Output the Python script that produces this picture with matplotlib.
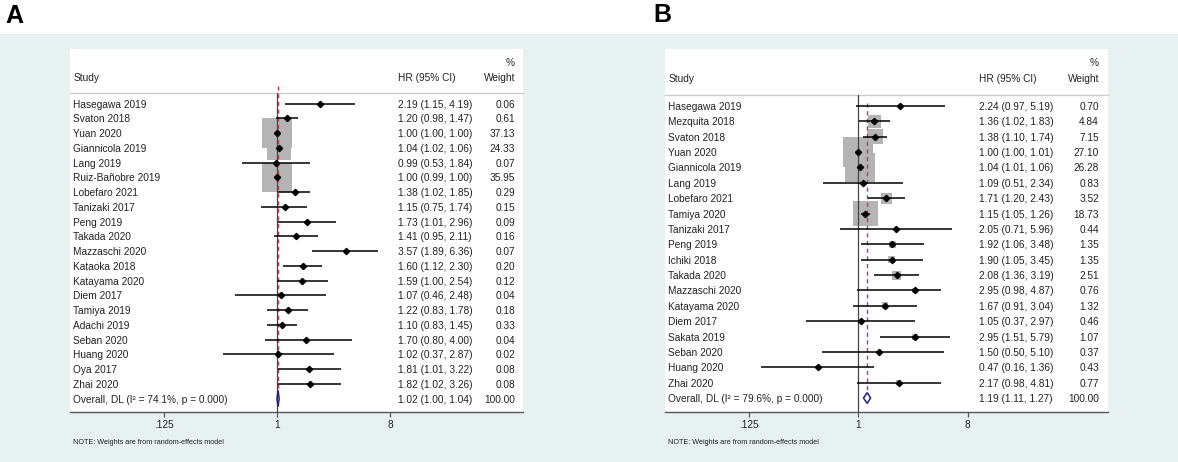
import numpy as np
import matplotlib

matplotlib.use("Agg")
import matplotlib.pyplot as plt
from matplotlib.patches import Polygon, Rectangle

plt.rcParams["font.family"] = ["Liberation Sans", "DejaVu Sans"]

# ---- panel A data ----
studies_a = ["Hasegawa 2019", "Svaton 2018", "Yuan 2020", "Giannicola 2019", "Lang 2019",
             "Ruiz-Bañobre 2019", "Lobefaro 2021", "Tanizaki 2017", "Peng 2019", "Takada 2020",
             "Mazzaschi 2020", "Kataoka 2018", "Katayama 2020", "Diem 2017", "Tamiya 2019",
             "Adachi 2019", "Seban 2020", "Huang 2020", "Oya 2017", "Zhai 2020"]
hr_a = [2.19, 1.20, 1.00, 1.04, 0.99, 1.00, 1.38, 1.15, 1.73, 1.41,
        3.57, 1.60, 1.59, 1.07, 1.22, 1.10, 1.70, 1.02, 1.81, 1.82]
lo_a = [1.15, 0.98, 1.00, 1.02, 0.53, 0.99, 1.02, 0.75, 1.01, 0.95,
        1.89, 1.12, 1.00, 0.46, 0.83, 0.83, 0.80, 0.37, 1.01, 1.02]
hi_a = [4.19, 1.47, 1.00, 1.06, 1.84, 1.00, 1.85, 1.74, 2.96, 2.11,
        6.36, 2.30, 2.54, 2.48, 1.78, 1.45, 4.00, 2.87, 3.22, 3.26]
w_a = [0.06, 0.61, 37.13, 24.33, 0.07, 35.95, 0.29, 0.15, 0.09, 0.16,
       0.07, 0.20, 0.12, 0.04, 0.18, 0.33, 0.04, 0.02, 0.08, 0.08]
overall_a = (1.02, 1.00, 1.04)
i2_a = 74.1

# ---- panel B data ----
studies_b = ["Hasegawa 2019", "Mezquita 2018", "Svaton 2018", "Yuan 2020", "Giannicola 2019",
             "Lang 2019", "Lobefaro 2021", "Tamiya 2020", "Tanizaki 2017", "Peng 2019",
             "Ichiki 2018", "Takada 2020", "Mazzaschi 2020", "Katayama 2020", "Diem 2017",
             "Sakata 2019", "Seban 2020", "Huang 2020", "Zhai 2020"]
hr_b = [2.24, 1.36, 1.38, 1.00, 1.04, 1.09, 1.71, 1.15, 2.05, 1.92,
        1.90, 2.08, 2.95, 1.67, 1.05, 2.95, 1.50, 0.47, 2.17]
lo_b = [0.97, 1.02, 1.10, 1.00, 1.01, 0.51, 1.20, 1.05, 0.71, 1.06,
        1.05, 1.36, 0.98, 0.91, 0.37, 1.51, 0.50, 0.16, 0.98]
hi_b = [5.19, 1.83, 1.74, 1.01, 1.06, 2.34, 2.43, 1.26, 5.96, 3.48,
        3.45, 3.19, 4.87, 3.04, 2.97, 5.79, 5.10, 1.36, 4.81]
w_b = [0.70, 4.84, 7.15, 27.10, 26.28, 0.83, 3.52, 18.73, 0.44, 1.35,
       1.35, 2.51, 0.76, 1.32, 0.46, 1.07, 0.37, 0.43, 0.77]
overall_b = (1.19, 1.11, 1.27)
i2_b = 79.6

tick_vals = [0.125, 1, 8]
tick_labels = [".125", "1", "8"]

W, H, DPI = 1178, 462, 100
INK = "#222222"
BG = "#e8f1f2"
FS = 7.3
ROW_TOP = -3.71   # rows above first study inside the white box


def draw_panel(ax, studies, hr, lo, hi, w, overall, i2, xlim, col_ci, col_w, diam_h, dash_top):
    n = len(studies)
    rows = np.arange(n)
    ax.set_xscale("log", base=2)
    ax.set_xlim(*xlim)
    ax.set_ylim(n + 0.91, ROW_TOP)
    ax.set_facecolor("white")
    for s in ("top", "left", "right"):
        ax.spines[s].set_visible(False)
    ax.spines["bottom"].set_color("#555555")
    ax.spines["bottom"].set_linewidth(1.0)
    ax.set_yticks([])
    ax.set_xticks(tick_vals)
    ax.set_xticklabels(tick_labels)
    ax.minorticks_off()
    ax.tick_params(axis="x", length=3.5, width=0.9, color="#555555", labelsize=FS,
                   labelcolor=INK, pad=2)

    # weight boxes (side proportional to sqrt of weight)
    w = np.asarray(w)
    side_pt = 30 * np.sqrt(w / w.max()) * 72 / DPI
    ax.scatter(hr, rows, s=side_pt ** 2, marker="s", color="#b4b4b4", linewidths=0, zorder=2)

    # reference lines
    ax.plot([1, 1], [-0.72, n + 0.91], color="#444444", lw=0.9, zorder=3)
    ax.plot([overall[0]] * 2, [dash_top, n - diam_h], color="#c43a4c", lw=1.0,
            ls=(0, (3, 2.5)), zorder=3)

    # CIs and point estimates
    ax.hlines(rows, lo, hi, color="black", lw=1.1, zorder=4)
    ax.plot(hr, rows, "D", color="black", ms=3.2, zorder=5)

    # overall diamond
    est, l, h = overall
    ax.add_patch(Polygon([(l, n), (est, n - diam_h), (h, n), (est, n + diam_h)],
                         closed=True, facecolor="none", edgecolor="#1f1f8a", lw=1.1, zorder=5))

    bt = matplotlib.transforms.blended_transform_factory(ax.transAxes, ax.transData)
    kw = dict(transform=bt, fontsize=FS, color=INK, va="center_baseline")
    # header
    ax.text(0.007, -1.8, "Study", **kw)
    ax.text(col_ci, -1.8, "HR (95% CI)", **kw)
    ax.text(col_w, -1.8, "Weight", ha="right", **kw)
    ax.text(col_w, -2.85, "%", ha="right", **kw)
    ax.plot([0, 1], [-0.72, -0.72], transform=bt, color="#cccccc", lw=1.0, clip_on=False)

    for i in range(n):
        ax.text(0.007, i, studies[i], **kw)
        ax.text(col_ci, i, f"{hr[i]:.2f} ({lo[i]:.2f}, {hi[i]:.2f})", **kw)
        ax.text(col_w, i, f"{w[i]:.2f}", ha="right", **kw)
    ax.text(0.007, n, f"Overall, DL (I² = {i2:.1f}%, p = 0.000)", **kw)
    ax.text(col_ci, n, f"{est:.2f} ({l:.2f}, {h:.2f})", **kw)
    ax.text(col_w, n, f"{100:.2f}", ha="right", **kw)
    ax.text(0.007, -0.083, "NOTE: Weights are from random-effects model",
            transform=ax.transAxes, fontsize=5.2, color=INK, va="center")


fig = plt.figure(figsize=(W / DPI, H / DPI), dpi=DPI)
fig.patches.append(Rectangle((0, 0), 1, (H - 34) / H, transform=fig.transFigure,
                             facecolor=BG, edgecolor="none", zorder=-10))


def px_axes(x0, y0, x1, y1):
    return fig.add_axes([x0 / W, (H - y1) / H, (x1 - x0) / W, (y1 - y0) / H])


ax_a = px_axes(70, 49, 523, 412)
draw_panel(ax_a, studies_a, hr_a, lo_a, hi_a, w_a, overall_a, i2_a,
           xlim=(2 ** ((70 - 277) / 37.7), 2 ** ((523 - 277) / 37.7)),
           col_ci=(398 - 70) / 453, col_w=(515 - 70) / 453, diam_h=0.55, dash_top=-1.2)

ax_b = px_axes(665, 49, 1108, 412)
draw_panel(ax_b, studies_b, hr_b, lo_b, hi_b, w_b, overall_b, i2_b,
           xlim=(2 ** ((665 - 858) / 36.5), 2 ** ((1108 - 858) / 36.5)),
           col_ci=(979 - 665) / 443, col_w=(1099 - 665) / 443, diam_h=0.35, dash_top=-0.2)

fig.text(5 / W, 1 - 16 / H, "A", fontsize=18, fontweight="bold", va="center", ha="left")
fig.text(653 / W, 1 - 15 / H, "B", fontsize=18, fontweight="bold", va="center", ha="left")

fig.savefig("out.png", dpi=DPI)
